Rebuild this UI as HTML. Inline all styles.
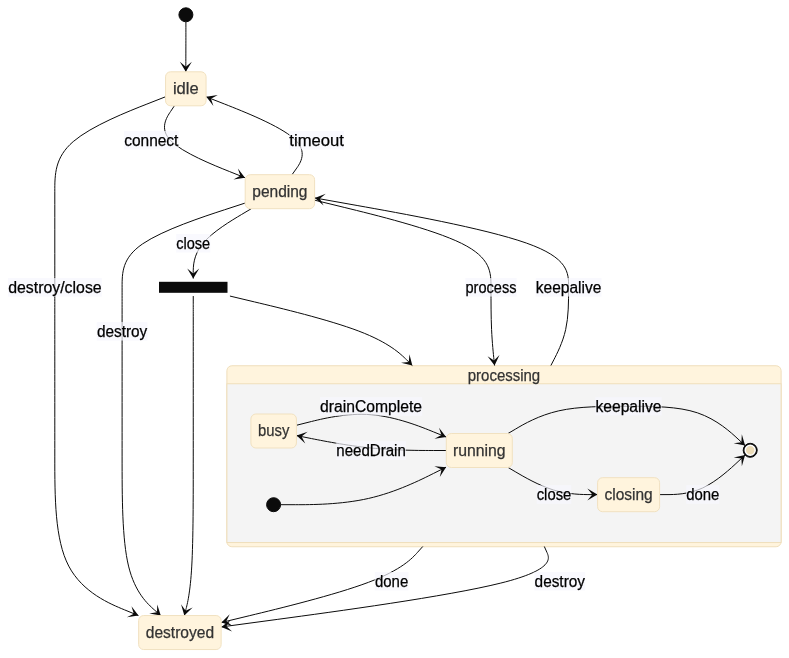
<!DOCTYPE html>
<html lang="en"><head><meta charset="utf-8"><title>State diagram</title>
<style>
html,body{margin:0;padding:0;background:#fff;}
svg{display:block;will-change:transform;font-family:"Liberation Sans", sans-serif;font-size:16px;}
.node rect{fill:#fff4dd;stroke:#f1e1c0;stroke-width:1;}
.node text,.ctitle{fill:#333;stroke:#333;stroke-width:.25px;text-anchor:middle;}
.edge{fill:none;stroke:#0b0b0b;stroke-width:1;}
.elabel rect{fill:#f6f7fe;opacity:.7;}
.elabel text{fill:#000;stroke:#000;stroke-width:.25px;text-anchor:middle;}
</style></head><body>
<svg width="789" height="658" viewBox="0 0 789 658">
<defs><marker id="barb" refX="19" refY="7" markerWidth="20" markerHeight="14" markerUnits="userSpaceOnUse" orient="auto"><path d="M 19,7 L9,13 L14,7 L9,1 Z" fill="#0b0b0b"/></marker></defs>

<g class="cluster"><rect x="226.90" y="365.75" width="554.20" height="181.00" rx="5" ry="5" fill="#fff4dd" stroke="#efdebb"/>
<rect x="226.90" y="383.75" width="554.20" height="158.80" fill="#f4f4f4" stroke="#efdebb"/>
<text class="ctitle" x="504" y="380.6" textLength="72.4" lengthAdjust="spacingAndGlyphs">processing</text></g>
<g class="edges">
<path class="edge" d="M185.9,21.8L185.9,26C185.9,30.2 185.9,38.6 185.88,46.93C185.87,55.27 185.83,63.53 185.82,67.67L185.8,71.8" marker-end="url(#barb)"/>
<path class="edge" d="M174.4,105.8L170.55,111.54C166.7,117.28 159,128.77 170.76,140.75C182.52,152.74 213.73,165.23 229.34,171.47L244.95,177.72" marker-end="url(#barb)"/>
<path class="edge" d="M292.03,174.7L296.12,168.96C300.22,163.22 308.41,151.73 294.12,138.76C279.83,125.79 243.07,111.33 224.68,104.09L206.3,96.86" marker-end="url(#barb)"/>
<path class="edge" d="M165.3,96.85L146.88,104.08C128.47,111.32 91.63,125.78 73.22,141.59C54.8,157.4 54.8,174.55 54.8,191.72C54.8,208.88 54.8,226.07 54.8,242C54.8,257.93 54.8,272.62 54.8,287.29C54.8,301.97 54.8,316.63 54.8,344.75C54.8,372.87 54.8,414.43 54.8,456.09C54.8,497.75 54.8,539.5 68.74,566.09C82.68,592.68 110.56,604.12 124.5,609.83L138.44,615.55" marker-end="url(#barb)"/>
<path class="edge" d="M244.95,203.12L224.47,209.81C204,216.49 163.05,229.87 142.57,243.9C122.1,257.93 122.1,272.62 122.1,287.29C122.1,301.97 122.1,316.63 122.1,344.75C122.1,372.87 122.1,414.43 122.1,456.09C122.1,497.75 122.1,539.5 128.54,566.09C134.98,592.68 147.86,604.12 154.31,609.83L160.75,615.55" marker-end="url(#barb)"/>
<path class="edge" d="M251.31,208.7L241.62,214.46C231.94,220.22 212.57,231.73 202.89,243.38C193.21,255.02 193.23,266.78 193.23,272.67L193.24,278.55" marker-end="url(#barb)"/>
<path class="edge" d="M193.25,296.05L193.25,301.93C193.25,307.8 193.25,319.55 193.25,346.21C193.25,372.87 193.25,414.43 193.25,456.09C193.25,497.75 193.25,539.5 191.76,566.09C190.27,592.68 187.3,604.12 185.81,609.83L184.32,615.55" marker-end="url(#barb)"/>
<path class="edge" d="M229.93,296.05L254.56,301.93C279.19,307.8 328.44,319.55 358.84,331.12C389.25,342.7 400.79,354.1 406.57,359.8L412.34,365.5" marker-end="url(#barb)"/>
<path class="edge" d="M314.85,200.23L344.21,207.4C373.57,214.57 432.28,228.91 461.64,243.42C491,257.93 491,272.62 491,287.29C491,301.97 491,316.63 491.59,329.67C492.19,342.7 493.38,354.1 493.97,359.8L494.57,365.5" marker-end="url(#barb)"/>
<path class="edge" d="M550.88,365.5L553.84,359.8C556.79,354.1 562.69,342.7 565.65,329.67C568.6,316.63 568.6,301.97 568.6,287.29C568.6,272.62 568.6,257.93 526.31,243.04C484.02,228.15 399.43,213.04 357.14,205.49L314.85,197.94" marker-end="url(#barb)"/>
<path class="edge" d="M422.78,546.5L417.59,552.29C412.39,558.08 401.99,569.67 368.43,582.33C334.87,595 278.13,608.75 249.77,615.62L221.4,622.49" marker-end="url(#barb)"/>
<path class="edge" d="M544.32,546.5L546.9,552.29C549.48,558.08 554.64,569.67 500.82,583.07C447,596.48 334.2,611.71 277.8,619.33L221.4,626.95" marker-end="url(#barb)"/>
<path class="edge" d="M280.6,504.7L295.68,504.7C310.77,504.7 340.93,504.7 368.51,498.44C396.08,492.19 421.07,479.67 433.56,473.41L446.05,467.16" marker-end="url(#barb)"/>
<path class="edge" d="M296.65,425.22L309.06,422.1C321.47,418.98 346.28,412.74 371.18,414.7C396.08,416.66 421.07,426.82 433.56,431.9L446.05,436.98" marker-end="url(#barb)"/>
<path class="edge" d="M446.05,450.5L433.56,450.5C421.07,450.5 396.08,450.5 371.18,448.02C346.28,445.53 321.47,440.57 309.06,438.09L296.65,435.6" marker-end="url(#barb)"/>
<path class="edge" d="M508.03,433.5L515.69,428.97C523.35,424.43 538.68,415.37 558.76,410.83C578.83,406.3 603.67,406.3 628.47,406.3C653.27,406.3 678.03,406.3 697.46,412.84C716.89,419.38 730.98,432.46 738.02,439L745.07,445.54" marker-end="url(#barb)"/>
<path class="edge" d="M508.16,467.5L515.8,472C523.44,476.5 538.72,485.5 553.59,490.02C568.45,494.54 582.9,494.58 590.12,494.6L597.35,494.62" marker-end="url(#barb)"/>
<path class="edge" d="M659.85,494.62L667.01,494.6C674.17,494.58 688.48,494.54 702.69,487.95C716.89,481.36 730.99,468.22 738.03,461.64L745.08,455.07" marker-end="url(#barb)"/>
</g>
<g class="labels">
<g class="elabel"><rect x="124.05" y="131.00" width="54.50" height="18.50"/><text x="151.30" y="145.55" textLength="54.20" lengthAdjust="spacingAndGlyphs">connect</text></g>
<g class="elabel"><rect x="289.20" y="131.00" width="54.80" height="18.50"/><text x="316.60" y="145.55" textLength="54.50" lengthAdjust="spacingAndGlyphs">timeout</text></g>
<g class="elabel"><rect x="8.00" y="278.05" width="93.80" height="18.50"/><text x="54.90" y="292.60" textLength="93.50" lengthAdjust="spacingAndGlyphs">destroy/close</text></g>
<g class="elabel"><rect x="96.75" y="322.05" width="50.70" height="18.50"/><text x="122.10" y="336.60" textLength="50.40" lengthAdjust="spacingAndGlyphs">destroy</text></g>
<g class="elabel"><rect x="176.10" y="234.00" width="34.20" height="18.50"/><text x="193.20" y="248.55" textLength="33.90" lengthAdjust="spacingAndGlyphs">close</text></g>
<g class="elabel"><rect x="465.35" y="278.05" width="51.30" height="18.50"/><text x="491.00" y="292.60" textLength="51.00" lengthAdjust="spacingAndGlyphs">process</text></g>
<g class="elabel"><rect x="535.70" y="278.05" width="65.80" height="18.50"/><text x="568.60" y="292.60" textLength="65.50" lengthAdjust="spacingAndGlyphs">keepalive</text></g>
<g class="elabel"><rect x="374.80" y="572.00" width="33.60" height="18.50"/><text x="391.60" y="586.55" textLength="33.30" lengthAdjust="spacingAndGlyphs">done</text></g>
<g class="elabel"><rect x="534.45" y="572.00" width="50.70" height="18.50"/><text x="559.80" y="586.55" textLength="50.40" lengthAdjust="spacingAndGlyphs">destroy</text></g>
<g class="elabel"><rect x="319.95" y="397.25" width="102.30" height="18.50"/><text x="371.10" y="411.80" textLength="102.00" lengthAdjust="spacingAndGlyphs">drainComplete</text></g>
<g class="elabel"><rect x="336.20" y="441.25" width="69.80" height="18.50"/><text x="371.10" y="455.80" textLength="69.50" lengthAdjust="spacingAndGlyphs">needDrain</text></g>
<g class="elabel"><rect x="595.35" y="397.05" width="66.30" height="18.50"/><text x="628.50" y="411.60" textLength="66.00" lengthAdjust="spacingAndGlyphs">keepalive</text></g>
<g class="elabel"><rect x="536.55" y="485.25" width="34.90" height="18.50"/><text x="554.00" y="499.80" textLength="34.60" lengthAdjust="spacingAndGlyphs">close</text></g>
<g class="elabel"><rect x="686.05" y="485.25" width="33.50" height="18.50"/><text x="702.80" y="499.80" textLength="33.20" lengthAdjust="spacingAndGlyphs">done</text></g>
</g>
<g class="nodes">
<circle cx="185.9" cy="14.8" r="7" fill="#0b0b0b" stroke="#0b0b0b"/>
<g class="node"><rect x="165.55" y="71.80" width="40.50" height="34.00" rx="5" ry="5"/><text x="185.80" y="94.10" textLength="25.7" lengthAdjust="spacingAndGlyphs">idle</text></g>
<g class="node"><rect x="245.20" y="174.70" width="69.40" height="34.00" rx="5" ry="5"/><text x="279.90" y="197.00" textLength="55.2" lengthAdjust="spacingAndGlyphs">pending</text></g>
<rect x="159" y="281.80" width="68.5" height="11" fill="#0b0b0b"/>
<g class="node"><rect x="138.65" y="615.55" width="82.50" height="34.00" rx="5" ry="5"/><text x="179.90" y="637.85" textLength="68.3" lengthAdjust="spacingAndGlyphs">destroyed</text></g>
<g class="node"><rect x="250.90" y="414.00" width="45.50" height="34.00" rx="5" ry="5"/><text x="273.65" y="436.30" textLength="31.3" lengthAdjust="spacingAndGlyphs">busy</text></g>
<g class="node"><rect x="446.30" y="433.50" width="66.00" height="34.00" rx="5" ry="5"/><text x="479.30" y="455.80" textLength="52.6" lengthAdjust="spacingAndGlyphs">running</text></g>
<g class="node"><rect x="597.60" y="477.70" width="62.00" height="34.00" rx="5" ry="5"/><text x="628.60" y="500.00" textLength="48.2" lengthAdjust="spacingAndGlyphs">closing</text></g>
<circle cx="273.6" cy="504.7" r="7" fill="#0b0b0b" stroke="#0b0b0b"/>
<circle cx="750.2" cy="450.3" r="7" fill="#0b0b0b" stroke="#0b0b0b"/>
<circle cx="750.2" cy="450.3" r="5" fill="#ecdcb8" stroke="#fff" stroke-width="1.5"/>
</g>
</svg></body></html>
